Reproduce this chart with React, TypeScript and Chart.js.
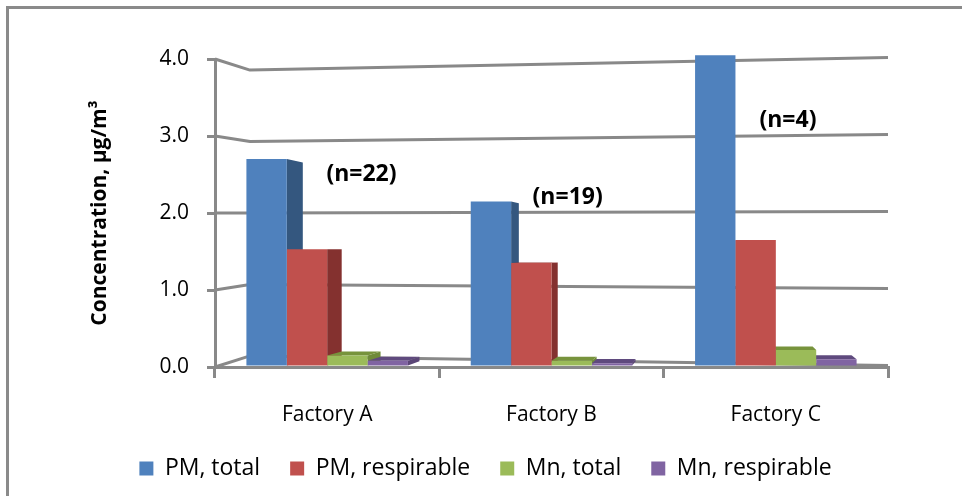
import { useEffect, useRef } from "react";
import { Chart, registerables } from "chart.js";

Chart.register(...registerables);

// Mean concentrations per factory (µg/m³)
const factories = ["Factory A", "Factory B", "Factory C"];
const pmTotal = [2.7, 2.15, 4.05];
const pmRespirable = [1.53, 1.35, 1.65];
const mnTotal = [0.15, 0.08, 0.22];
const mnRespirable = [0.08, 0.05, 0.1];

// Sample counts written beside each factory group, and the level they sit at
const sampleCounts = ["(n=22)", "(n=19)", "(n=4)"];
const countLevels = [2.5, 2.2, 3.2];

const seriesNames = ["PM, total", "PM, respirable", "Mn, total", "Mn, respirable"];
const frontColors = ["#4F81BD", "#C0504D", "#9BBB59", "#8064A2"];
const sideColors = ["#34577F", "#84312F", "#6F8A3A", "#5B4677"];
const topColors = ["#3E6595", "#9A3C39", "#77933C", "#5F4A7E"];

const FONT = "'Open Sans', 'Noto Sans', sans-serif";
const GRID = "#898989";

// Gridlines bent along a narrow side wall before running across the back wall
const wallGrid = {
  id: "wallGrid",
  beforeDatasetsDraw(chart: any) {
    const { ctx, chartArea, scales } = chart;
    const yScale = scales.y;
    const horizon = yScale.getPixelForValue(2);
    const wall = 35;
    ctx.save();
    ctx.strokeStyle = GRID;
    ctx.lineWidth = 3;
    ctx.lineJoin = "round";
    yScale.ticks.forEach((t: any) => {
      const y = yScale.getPixelForValue(t.value);
      const yBack = y - (y - horizon) * 0.072;
      ctx.beginPath();
      ctx.moveTo(chartArea.left, y);
      ctx.lineTo(chartArea.left + wall, yBack);
      ctx.lineTo(chartArea.right, y - 1.5);
      ctx.stroke();
    });
    ctx.restore();
  },
};

// Draws the depth faces (sides and tops) of the bars, seen towards a single vanishing point
const barDepth = {
  id: "barDepth",
  beforeDatasetsDraw(chart: any) {
    const { ctx, chartArea, scales } = chart;
    const vx = chartArea.left + (chartArea.right - chartArea.left) * 0.75;
    const vy = scales.y.getPixelForValue(1.5);
    const k = 0.037;
    const shift = (x: number, y: number) => [x + (vx - x) * k, y + (vy - y) * k];
    const poly = (pts: number[][]) => {
      ctx.beginPath();
      ctx.moveTo(pts[0][0], pts[0][1]);
      for (let i = 1; i < pts.length; i++) ctx.lineTo(pts[i][0], pts[i][1]);
      ctx.closePath();
      ctx.fill();
    };
    ctx.save();
    chart.data.datasets.forEach((_ds: any, di: number) => {
      const meta = chart.getDatasetMeta(di);
      if (meta.hidden) return;
      meta.data.forEach((bar: any) => {
        const { x, y, base, width } = bar.getProps(["x", "y", "base", "width"], true);
        const x0 = x - width / 2;
        const x1 = x + width / 2;
        const [tx0, ty0] = shift(x0, y);
        const [tx1, ty1] = shift(x1, y);
        const [bx0, by0] = shift(x0, base);
        const [bx1, by1] = shift(x1, base);
        ctx.fillStyle = sideColors[di];
        if (tx1 > x1) poly([[x1, y], [tx1, ty1], [bx1, by1], [x1, base]]);
        if (tx0 < x0) poly([[x0, y], [tx0, ty0], [bx0, by0], [x0, base]]);
        if (ty0 < y) {
          ctx.fillStyle = topColors[di];
          poly([[x0, y], [x1, y], [tx1, ty1], [tx0, ty0]]);
        }
      });
    });
    ctx.restore();
  },
};

// Writes the sample counts to the right of each PM, total bar
const countLabels = {
  id: "countLabels",
  afterDatasetsDraw(chart: any) {
    const { ctx, scales } = chart;
    const meta = chart.getDatasetMeta(0);
    // gap after the bar, in bar widths (the view narrows towards the right)
    const gaps = [1.85, 1.4, 1.3];
    ctx.save();
    ctx.font = `bold 23px ${FONT}`;
    ctx.fillStyle = "#000";
    ctx.textAlign = "center";
    ctx.textBaseline = "middle";
    sampleCounts.forEach((text, i) => {
      const bar = meta.data[i];
      const x = bar.x + bar.width / 2 + bar.width * gaps[i];
      const y = scales.y.getPixelForValue(countLevels[i]);
      ctx.fillText(text, x, y);
    });
    ctx.restore();
  },
};

export default function App() {
  const canvasRef = useRef<HTMLCanvasElement | null>(null);

  useEffect(() => {
    const canvas = canvasRef.current;
    if (!canvas) return;
    const values = [pmTotal, pmRespirable, mnTotal, mnRespirable];
    const chart = new Chart(canvas, {
      type: "bar",
      data: {
        labels: factories,
        datasets: seriesNames.map((name, i) => ({
          label: name,
          data: values[i],
          backgroundColor: frontColors[i],
          borderWidth: 0,
          clip: false as any,
        })),
      },
      options: {
        responsive: false,
        animation: false,
        layout: { padding: { left: 83, right: 74, top: 59, bottom: 6 } },
        datasets: {
          bar: { categoryPercentage: 0.72, barPercentage: 1.0 },
        },
        plugins: {
          tooltip: { enabled: false },
          legend: {
            position: "bottom",
            labels: {
              boxWidth: 14,
              boxHeight: 14,
              padding: 30,
              color: "#000",
              font: { family: FONT, size: 23 },
            },
          },
        },
        scales: {
          x: {
            grid: {
              display: true,
              drawOnChartArea: false,
              drawTicks: true,
              tickLength: 11,
              color: GRID,
              lineWidth: 3,
            },
            border: { display: true, color: GRID, width: 3 },
            ticks: {
              color: "#000",
              padding: 24,
              font: { family: FONT, size: 21 },
            },
            afterFit(scale: any) {
              scale.height = 60;
            },
          },
          y: {
            min: 0,
            max: 4,
            ticks: {
              stepSize: 1,
              color: "#000",
              padding: 18,
              font: { family: FONT, size: 21 },
              callback: (v: any) => Number(v).toFixed(1),
            },
            grid: { color: GRID, lineWidth: 3, tickLength: 8, drawOnChartArea: false },
            border: { display: true, color: GRID, width: 3 },
            title: {
              display: true,
              text: "Concentration, µg/m³",
              color: "#000",
              padding: { top: 4, bottom: 0 },
              font: { family: FONT, size: 21, weight: "bold" },
            },
            afterFit(scale: any) {
              scale.width = 132;
            },
          },
        },
      },
      plugins: [wallGrid, barDepth, countLabels],
    });
    return () => chart.destroy();
  }, []);

  return (
    <div>
      <div
        style={{
          position: "fixed",
          left: 6,
          top: 6,
          width: 970,
          height: 500,
          borderLeft: "3px solid #8A8A8A",
          borderTop: "3px solid #8A8A8A",
          boxSizing: "border-box",
        }}
      />
      <canvas
        ref={canvasRef}
        width={962}
        height={496}
        style={{ position: "fixed", left: 0, top: 0, width: 962, height: 496 }}
      />
    </div>
  );
}
